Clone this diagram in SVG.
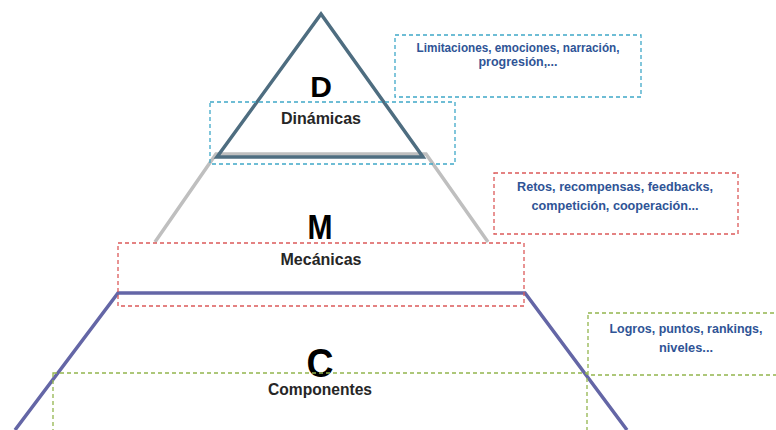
<svg xmlns="http://www.w3.org/2000/svg" width="776" height="430" viewBox="0 0 776 430">
  <style>
    .bg { fill: #ffffff; }
    .box { fill: none; stroke-width: 1.3; stroke-dasharray: 4 3; }
    .cyan { stroke: #3FA8C8; }
    .red { stroke: #DC5A5A; }
    .green { stroke: #93B54E; }
    .edge { fill: none; stroke-width: 3.5; stroke-linejoin: miter; }
    .big { font-family: "Liberation Sans", Arial, sans-serif; font-weight: bold; fill: #000000; text-anchor: middle; }
    .label { font-family: "Liberation Sans", Arial, sans-serif; font-weight: bold; font-size: 16px; fill: #262626; text-anchor: middle; }
    .note { font-family: "Liberation Sans", Arial, sans-serif; font-weight: bold; font-size: 12px; fill: #2F5496; text-anchor: middle; }
  </style>
  <rect class="bg" x="0" y="0" width="776" height="430"/>

  <g id="connectors">
    <!-- mechanics trapezoid (gray) -->
    <path class="edge" d="M155,242 L216,154 L426,154 L488,242" stroke="#BFBFBF"/>
    <!-- dynamics triangle -->
    <path class="edge" d="M217,157 L321,14 L423,157 Z" stroke="#4E6D80"/>
    <!-- components trapezoid -->
    <path class="edge" d="M15,430 L118,293 L525,293 L627,430" stroke="#6466A6"/>
  </g>

  <g id="dinamicas">
    <text class="big" x="321" y="97" font-size="30">D</text>
    <text class="label" x="321" y="124">Dinámicas</text>
    <rect class="box cyan" x="210" y="102" width="245" height="62"/>
  </g>

  <g id="dinamicas-nota">
    <rect class="box cyan" x="395" y="35" width="246" height="62"/>
    <text class="note" x="518" y="52" font-size="11.5" textLength="203" lengthAdjust="spacingAndGlyphs">Limitaciones, emociones, narración,</text>
    <text class="note" x="518" y="66" font-size="11.5" textLength="79" lengthAdjust="spacingAndGlyphs">progresión,...</text>
  </g>

  <g id="mecanicas">
    <text class="big" x="320" y="239" font-size="35" textLength="25" lengthAdjust="spacingAndGlyphs">M</text>
    <text class="label" x="321" y="265">Mecánicas</text>
    <rect class="box red" x="118" y="243" width="406" height="63"/>
  </g>

  <g id="mecanicas-nota">
    <rect class="box red" x="494" y="173" width="244" height="61"/>
    <text class="note" x="615" y="191" textLength="196" lengthAdjust="spacingAndGlyphs">Retos, recompensas, feedbacks,</text>
    <text class="note" x="615" y="210" textLength="167" lengthAdjust="spacingAndGlyphs">competición, cooperación...</text>
  </g>

  <g id="componentes">
    <text class="big" x="320" y="377" font-size="40" textLength="27" lengthAdjust="spacingAndGlyphs">C</text>
    <text class="label" x="320" y="395" textLength="104" lengthAdjust="spacingAndGlyphs">Componentes</text>
    <rect class="box green" x="53" y="373" width="534" height="70"/>
  </g>

  <g id="componentes-nota">
    <rect class="box green" x="588" y="313" width="200" height="62"/>
    <text class="note" x="686" y="333" textLength="153" lengthAdjust="spacingAndGlyphs">Logros, puntos, rankings,</text>
    <text class="note" x="686" y="352" textLength="54" lengthAdjust="spacingAndGlyphs">niveles...</text>
  </g>
</svg>
